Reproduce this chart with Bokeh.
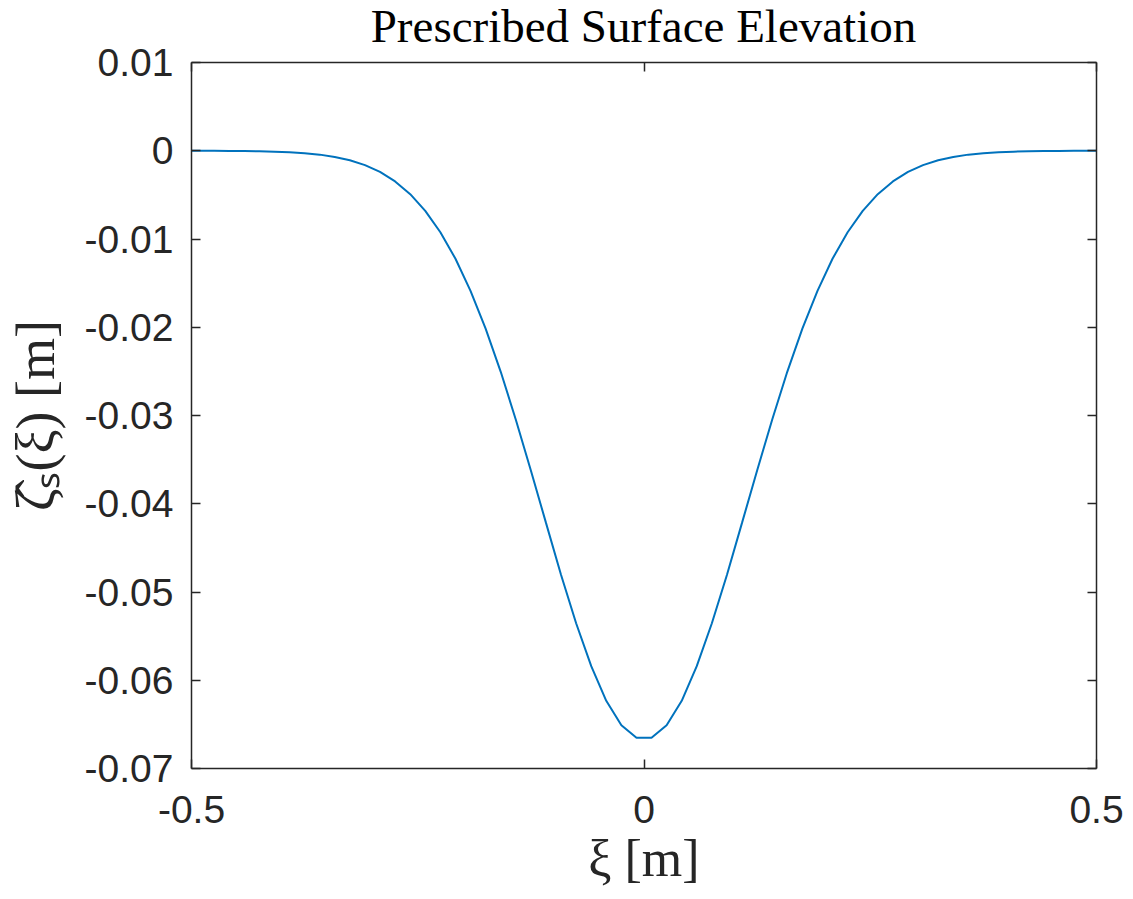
from bokeh.plotting import figure
from bokeh.models import FixedTicker, LinearAxis, Range1d, CustomJSTickFormatter, Div
from bokeh.layouts import column
from bokeh.embed import file_html
from bokeh.resources import INLINE

# ---- data ----
xi = [-0.5, -0.4917, -0.475, -0.4583, -0.4417, -0.425, -0.4083, -0.3917, -0.375, -0.3583,
      -0.3417, -0.325, -0.3083, -0.2917, -0.275, -0.2583, -0.2417, -0.225, -0.2083,
      -0.1917, -0.175, -0.1583, -0.1417, -0.125, -0.1083, -0.0917, -0.075, -0.0583,
      -0.0417, -0.025, -0.0083,
      0.0083, 0.025, 0.0417, 0.0583, 0.075, 0.0917, 0.1083, 0.125, 0.1417, 0.1583,
      0.175, 0.1917, 0.2083, 0.225, 0.2417, 0.2583, 0.275, 0.2917, 0.3083, 0.325,
      0.3417, 0.3583, 0.375, 0.3917, 0.4083, 0.425, 0.4417, 0.4583, 0.475, 0.4917, 0.5]
zeta = [-0.00001, -0.00001, -0.00001, -0.00002, -0.00003, -0.00006, -0.0001, -0.00017,
        -0.00027, -0.00044, -0.0007, -0.00108, -0.00163, -0.0024, -0.00348, -0.00492,
        -0.00681, -0.00923, -0.01224, -0.01588, -0.02016, -0.02505, -0.03045, -0.03623,
        -0.04217, -0.04804, -0.05354, -0.0584, -0.06233, -0.06509, -0.06652,
        -0.06652, -0.06509, -0.06233, -0.0584, -0.05354, -0.04804, -0.04217, -0.03623,
        -0.03045, -0.02505, -0.02016, -0.01588, -0.01224, -0.00923, -0.00681, -0.00492,
        -0.00348, -0.0024, -0.00163, -0.00108, -0.0007, -0.00044, -0.00027, -0.00017,
        -0.0001, -0.00006, -0.00003, -0.00002, -0.00001, -0.00001, -0.00001]

x_ticks = [-0.5, 0, 0.5]
x_tick_labels = ["-0.5", "0", "0.5"]
y_ticks = [0.01, 0, -0.01, -0.02, -0.03, -0.04, -0.05, -0.06, -0.07]
y_tick_labels = ["0.01", "0", "-0.01", "-0.02", "-0.03", "-0.04", "-0.05", "-0.06", "-0.07"]

title_text = "Prescribed Surface Elevation"
x_label = "ξ [m]"
y_label = "ζ̂ₛ(ξ) [m]"

AX = "#262626"
TICKFONT = "Liberation Sans"
SERIF = "Liberation Serif"

TITLE_H = 52      # height of the title box
OVERLAP = 15      # the figure starts this many px above the bottom of the title box
FIG_TOP = TITLE_H - OVERLAP

title_div = Div(text=title_text, width=905, height=TITLE_H, margin=(0, 0, -OVERLAP, 191),
                styles={"font-family": SERIF, "font-size": "47px", "line-height": f"{TITLE_H}px",
                        "text-align": "center", "color": "#000000", "white-space": "nowrap",
                        "width": "905px"})

p = figure(width=1133, height=899 - FIG_TOP, output_backend="svg", toolbar_location=None,
           x_range=Range1d(-0.5, 0.5), y_range=Range1d(-0.07, 0.01),
           min_border_left=191, min_border_right=37, min_border_top=62 - FIG_TOP,
           min_border_bottom=131, margin=(0, 0, 0, 0),
           background_fill_color="white", border_fill_color=None)
p.outline_line_color = None
p.xgrid.visible = False
p.ygrid.visible = False

p.line(xi, zeta, line_color="#0072BD", line_width=2)

def style(ax, ticks, labels, show_labels=True):
    ax.ticker = FixedTicker(ticks=ticks, minor_ticks=[])
    ax.axis_line_color = AX
    ax.axis_line_width = 1.5
    ax.major_tick_line_color = AX
    ax.major_tick_line_width = 1.5
    ax.major_tick_in = 9
    ax.major_tick_out = 0
    ax.minor_tick_line_color = None
    if show_labels:
        ax.major_label_overrides = {t: l for t, l in zip(ticks, labels)}
        ax.major_label_text_font = TICKFONT
        ax.major_label_text_font_size = "39px"
        ax.major_label_text_color = AX
    else:
        ax.formatter = CustomJSTickFormatter(code="return ''")
        ax.major_label_standoff = 0

xa = p.xaxis[0]
ya = p.yaxis[0]
style(xa, x_ticks, x_tick_labels)
style(ya, y_ticks, y_tick_labels)
xa.major_label_standoff = 27
ya.major_label_standoff = 18
xa.axis_label = x_label
ya.axis_label = y_label
for ax in (xa, ya):
    ax.axis_label_text_font = SERIF
    ax.axis_label_text_font_style = "normal"
    ax.axis_label_text_color = AX
xa.axis_label_text_font_size = "52px"
ya.axis_label_text_font_size = "54px"
xa.axis_label_standoff = 4
ya.axis_label_standoff = 16

top = LinearAxis()
right = LinearAxis()
style(top, x_ticks, x_tick_labels, show_labels=False)
style(right, y_ticks, y_tick_labels, show_labels=False)
p.add_layout(top, "above")
p.add_layout(right, "right")

page = column(title_div, p, spacing=0, margin=(0, 0, 0, 0))
open("out.html", "w").write(file_html(page, INLINE))
